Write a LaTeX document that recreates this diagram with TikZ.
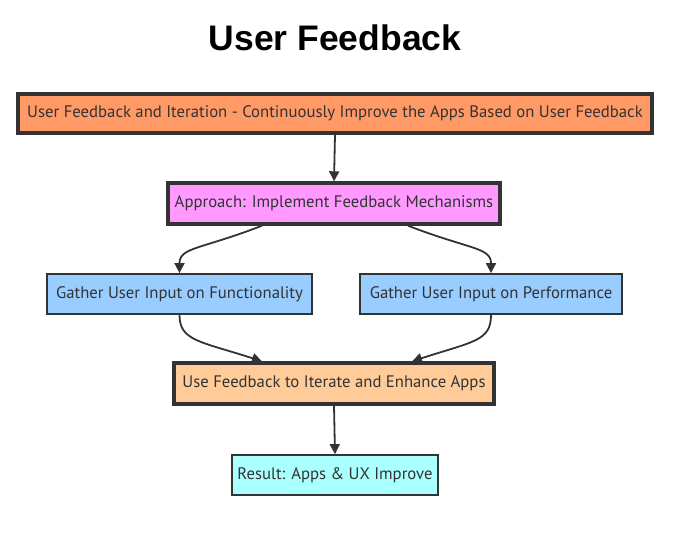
\documentclass[tikz,border=0pt]{standalone}
\usepackage{fontspec}
\setmainfont{PT Sans}
\newfontfamily\titlefont{Liberation Sans}
\usetikzlibrary{arrows.meta}
\definecolor{edgec}{HTML}{333333}
\definecolor{topc}{HTML}{FF9966}
\definecolor{appc}{HTML}{FF99FF}
\definecolor{bluec}{HTML}{99CCFF}
\definecolor{usec}{HTML}{FFCC99}
\definecolor{resc}{HTML}{AAFFFF}
\tikzset{
  box/.style={draw=edgec, text=edgec, inner sep=0pt, align=center, font=\fontsize{16.7}{19}\selectfont},
  thickbox/.style={box, line width=3.4pt},
  thinbox/.style={box, line width=1.8pt},
  conn/.style={draw=edgec, line width=1.8pt, -{Triangle[length=10pt,width=10pt]}},
}
\begin{document}
\begin{tikzpicture}[x=1pt,y=-1pt]
\useasboundingbox (0,0) rectangle (682,549);
\node[font=\titlefont\bfseries\fontsize{35.5}{40}\selectfont] (title) at (335,38) {User Feedback};
\node[thickbox, fill=topc, minimum width=634pt, minimum height=39pt] (top) at (335,113.5)
  {User Feedback and Iteration - Continuously Improve the Apps Based on User Feedback};
\node[thickbox, fill=appc, minimum width=332pt, minimum height=41pt] (app) at (334,203.5)
  {Approach: Implement Feedback Mechanisms};
\node[thinbox, fill=bluec, minimum width=265pt, minimum height=40pt] (func) at (179.5,294)
  {Gather User Input on Functionality};
\node[thinbox, fill=bluec, minimum width=262pt, minimum height=40pt] (perf) at (491,294)
  {Gather User Input on Performance};
\node[thickbox, fill=usec, minimum width=320pt, minimum height=41pt] (use) at (334,383.5)
  {Use Feedback to Iterate and Enhance Apps};
\node[thinbox, fill=resc, minimum width=206pt, minimum height=40pt] (res) at (335,475)
  {Result: Apps \& UX Improve};

\draw[conn] (top.south) -- (app.north);
\draw[conn] ([xshift=-72pt]app.south) .. controls +(-62,24) and +(0,-26) .. (func.north);
\draw[conn] ([xshift=74pt]app.south) .. controls +(62,24) and +(0,-26) .. (perf.north);
\draw[conn] (func.south) .. controls +(0,26) and +(-62,-20) .. ([xshift=-72pt]use.north);
\draw[conn] (perf.south) .. controls +(0,26) and +(62,-20) .. ([xshift=78pt]use.north);
\draw[conn] (use.south) -- (res.north);
\end{tikzpicture}
\end{document}
